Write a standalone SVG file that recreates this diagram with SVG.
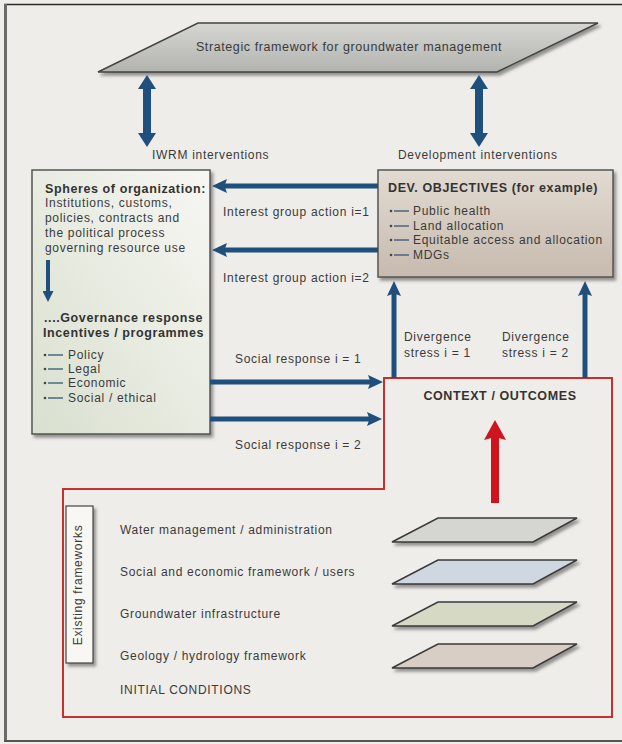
<svg xmlns="http://www.w3.org/2000/svg" width="622" height="744" viewBox="0 0 622 744">
<style>
text{font-family:"Liberation Sans",Arial,Helvetica,sans-serif;fill:#3a3a3a;font-size:12px;letter-spacing:0.7px}
.b{font-weight:bold;font-size:12.5px;letter-spacing:0.6px;fill:#333}
.mid{text-anchor:middle}
.blue{stroke:#1f4f7c;fill:none}
.layer{stroke:#3a3a3a;stroke-width:1.5;filter:url(#sh)}
.box{stroke:#555;stroke-width:1.5;filter:url(#sh)}
</style>
<defs>
<filter id="sh" x="-10%" y="-20%" width="130%" height="160%">
<feDropShadow dx="2.5" dy="3" stdDeviation="1.5" flood-color="#555" flood-opacity="0.6"/>
</filter>
<linearGradient id="gTop" x1="0" y1="0" x2="0" y2="1">
<stop offset="0" stop-color="#d6d6d2"/><stop offset="1" stop-color="#b2b2ae"/>
</linearGradient>
<linearGradient id="gLeft" x1="1" y1="0" x2="0" y2="1">
<stop offset="0" stop-color="#f7f7f3"/><stop offset="1" stop-color="#d9e0cf"/>
</linearGradient>
<linearGradient id="gDev" x1="0" y1="0" x2="0" y2="1">
<stop offset="0" stop-color="#e2dbd2"/><stop offset="1" stop-color="#c7baae"/>
</linearGradient>
<marker id="ah" viewBox="0 0 15 14" refX="5" refY="7" markerWidth="15" markerHeight="14" markerUnits="userSpaceOnUse" orient="auto">
<path d="M0,0 L15,7 L0,14 L2.5,7 z" fill="#1f4f7c"/>
</marker>
<marker id="ahs" viewBox="0 0 11 11" refX="3" refY="5.5" markerWidth="11" markerHeight="11" markerUnits="userSpaceOnUse" orient="auto">
<path d="M0,0 L11,5.5 L0,11 z" fill="#1f4f7c"/>
</marker>
<marker id="dbl" viewBox="0 0 14 18" refX="4" refY="9" markerWidth="14" markerHeight="18" markerUnits="userSpaceOnUse" orient="auto-start-reverse">
<path d="M0,0 L14,9 L0,18 z" fill="#1f4f7c"/>
</marker>
<marker id="red" viewBox="0 0 20 22" refX="6" refY="11" markerWidth="20" markerHeight="22" markerUnits="userSpaceOnUse" orient="auto">
<path d="M0,0 L20,11 L0,22 L3,11 z" fill="#d0141e"/>
</marker>
<g id="bul"><circle cx="0" cy="0" r="1.3" fill="#444"/><line x1="3" y1="0" x2="18" y2="0" stroke="#3f5f7f" stroke-width="1.4"/></g>
</defs>

<rect x="0" y="0" width="622" height="744" fill="#efede9"/>
<line x1="4" y1="4.5" x2="622" y2="4.5" stroke="#2a2a2a" stroke-width="1.5"/>
<line x1="5.5" y1="4" x2="5.5" y2="742" stroke="#6a6a6a" stroke-width="3"/>
<line x1="4" y1="741" x2="622" y2="741" stroke="#555" stroke-width="2"/>

<g id="strategic">
<polygon points="198,23 598,23 497,72 98,72" fill="url(#gTop)" stroke="#444" stroke-width="1.5" filter="url(#sh)"/>
<text class="mid" x="349" y="51" style="font-size:12.5px;letter-spacing:0.6px">Strategic framework for groundwater management</text>
</g>

<g id="labels-top">
<text x="152" y="159">IWRM interventions</text>
<text x="398" y="159">Development interventions</text>
</g>

<g id="spheres">
<rect class="box" x="32" y="170" width="178" height="264" fill="url(#gLeft)"/>
<text class="b" x="45" y="193">Spheres of organization:</text>
<text x="45" y="207">Institutions, customs,</text>
<text x="45" y="222">policies, contracts and</text>
<text x="45" y="237">the political process</text>
<text x="45" y="252">governing resource use</text>
<line class="blue" x1="48" y1="260" x2="48" y2="294" stroke-width="4" marker-end="url(#ahs)"/>
<text class="b" x="44" y="322">....Governance response</text>
<text class="b" x="43" y="337">Incentives / programmes</text>
<use href="#bul" x="45" y="355"/><text x="68" y="359">Policy</text>
<use href="#bul" x="45" y="369"/><text x="68" y="373">Legal</text>
<use href="#bul" x="45" y="383"/><text x="68" y="387">Economic</text>
<use href="#bul" x="45" y="398"/><text x="68" y="402">Social / ethical</text>
</g>

<g id="dev-objectives">
<rect class="box" x="378" y="170" width="235" height="107" fill="url(#gDev)"/>
<text class="b" x="388" y="192">DEV. OBJECTIVES (for example)</text>
<use href="#bul" x="391" y="211"/><text x="413" y="215">Public health</text>
<use href="#bul" x="391" y="226"/><text x="413" y="230">Land allocation</text>
<use href="#bul" x="391" y="240"/><text x="413" y="244">Equitable access and allocation</text>
<use href="#bul" x="391" y="255"/><text x="413" y="259">MDGs</text>
</g>

<g id="context">
<path d="M384,378 H612 V717 H63 V489 H384 Z" fill="none" stroke="#c8302c" stroke-width="2"/>
<text class="b mid" x="500" y="400">CONTEXT / OUTCOMES</text>
</g>

<g id="existing-frameworks">
<rect x="66" y="506" width="27" height="157" fill="#f8f7f3" stroke="#444" stroke-width="1.2" filter="url(#sh)"/>
<text class="mid" transform="translate(82,585) rotate(-90)">Existing frameworks</text>
<text x="120" y="534">Water management / administration</text>
<text x="120" y="576">Social and economic framework / users</text>
<text x="120" y="618">Groundwater infrastructure</text>
<text x="120" y="660">Geology / hydrology framework</text>
<text x="120" y="694">INITIAL CONDITIONS</text>
<polygon class="layer" points="438,518 577,518 533,542 392,542" fill="#d5d5d1"/>
<polygon class="layer" points="438,560 577,560 533,584 392,584" fill="#cfd8e1"/>
<polygon class="layer" points="438,602 577,602 533,626 392,626" fill="#d6d9c3"/>
<polygon class="layer" points="438,644 577,644 533,668 392,668" fill="#d9cec5"/>
</g>

<g id="connectors">
<line class="blue" x1="147" y1="85" x2="147" y2="137" stroke-width="8" marker-start="url(#dbl)" marker-end="url(#dbl)"/>
<line class="blue" x1="479" y1="85" x2="479" y2="137" stroke-width="8" marker-start="url(#dbl)" marker-end="url(#dbl)"/>
<line class="blue" x1="378" y1="186" x2="222" y2="186" stroke-width="5" marker-end="url(#ah)"/>
<line class="blue" x1="378" y1="250" x2="222" y2="250" stroke-width="5" marker-end="url(#ah)"/>
<line class="blue" x1="210" y1="382" x2="373" y2="382" stroke-width="5" marker-end="url(#ah)"/>
<line class="blue" x1="210" y1="419" x2="372" y2="419" stroke-width="5" marker-end="url(#ah)"/>
<line class="blue" x1="394" y1="378" x2="394" y2="291" stroke-width="5" marker-end="url(#ah)"/>
<line class="blue" x1="585" y1="378" x2="585" y2="291" stroke-width="5" marker-end="url(#ah)"/>
<line x1="495" y1="503" x2="495" y2="434" stroke="#d0141e" stroke-width="8" marker-end="url(#red)"/>
<text x="223" y="216">Interest group action i=1</text>
<text x="223" y="282">Interest group action i=2</text>
<text x="235" y="363">Social response i = 1</text>
<text x="235" y="449">Social response i = 2</text>
<text x="404" y="341">Divergence</text>
<text x="404" y="357">stress i = 1</text>
<text x="502" y="341">Divergence</text>
<text x="502" y="357">stress i = 2</text>
</g>
</svg>
